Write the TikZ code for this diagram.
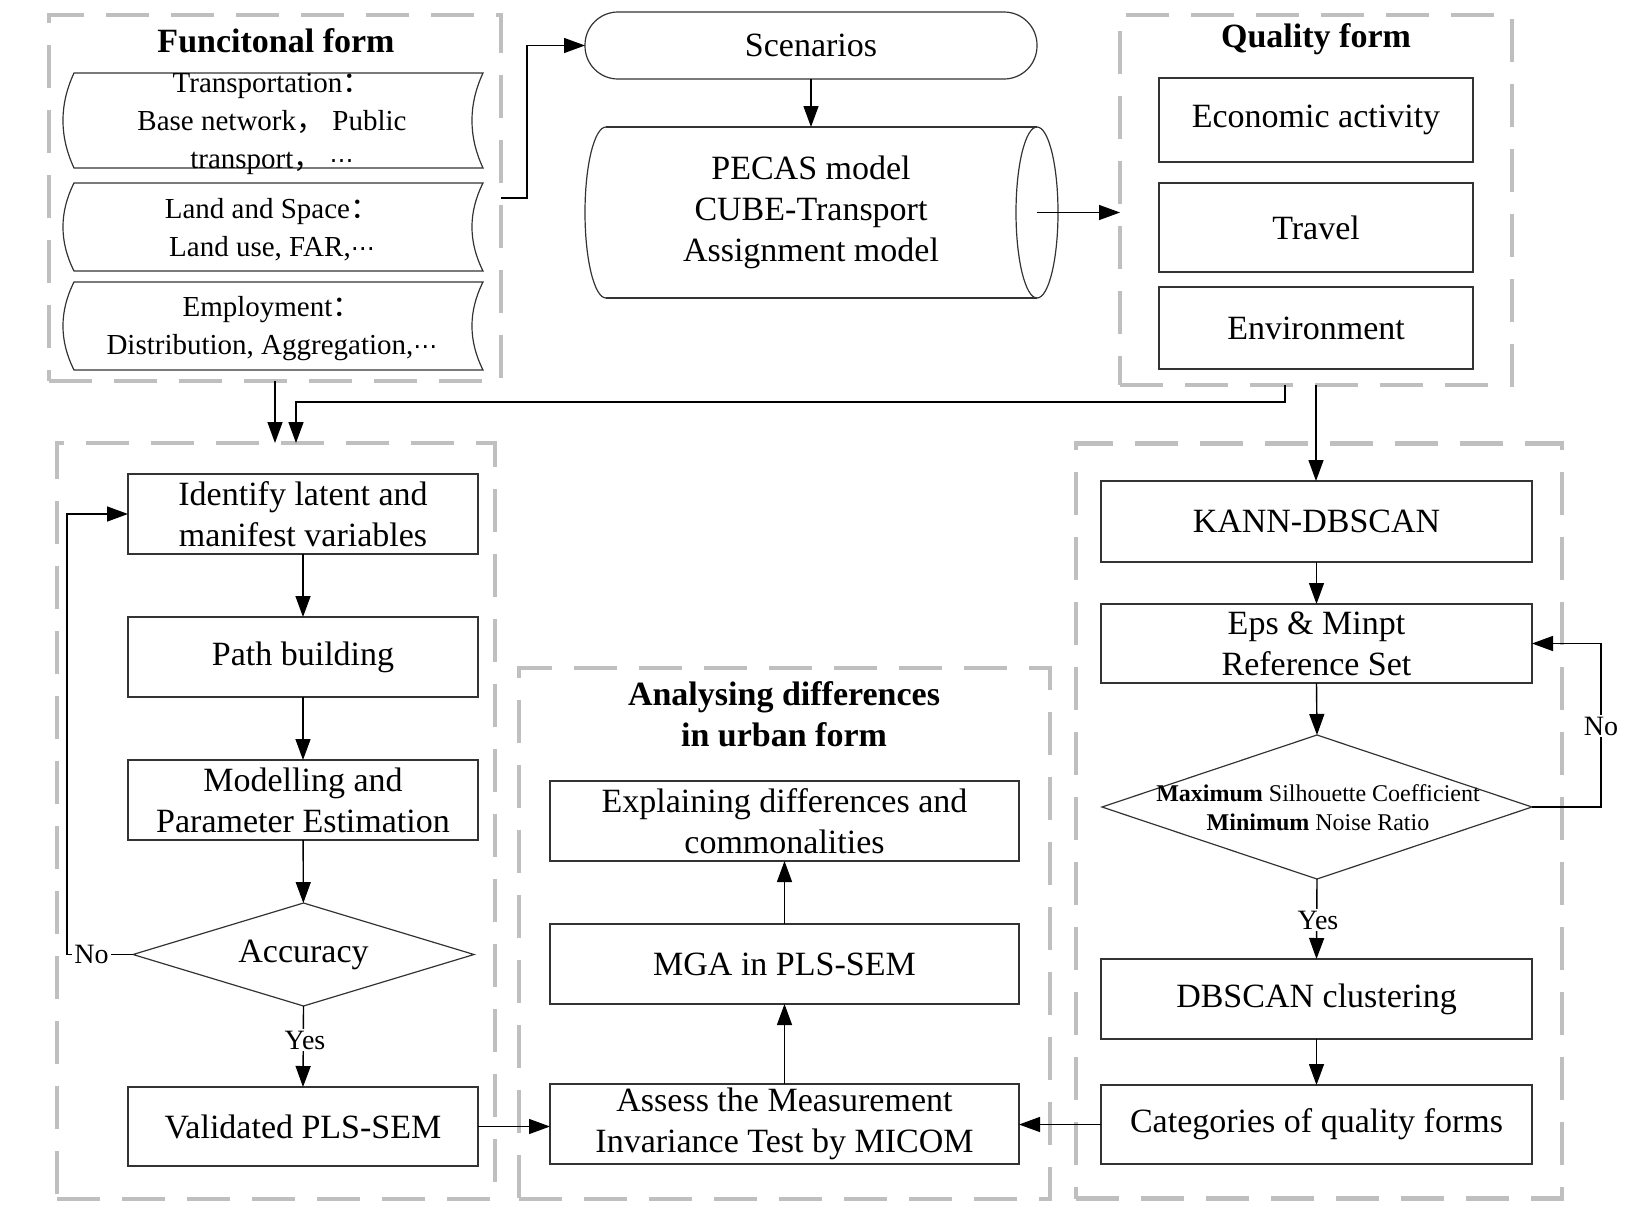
\documentclass[tikz,border=0pt]{standalone}
\usepackage{fontspec}
\setmainfont{Liberation Serif}
\newfontfamily\cjk{Noto Sans CJK SC}
\newfontfamily\symf{DejaVu Sans}
\usetikzlibrary{arrows.meta,shapes.geometric,calc}
\newcommand{\mainfs}{\fontsize{17}{20.5}\selectfont}
\newcommand{\funcfs}{\fontsize{14.5}{19}\selectfont}
\newcommand{\titlefs}{\fontsize{17}{20.5}\selectfont\bfseries}
\newcommand{\smallfs}{\fontsize{12}{14.5}\selectfont}
\newcommand{\lblfs}{\fontsize{14}{16}\selectfont}
\newcommand{\mdots}{{\symf\fontsize{12}{14}\selectfont ⋯}}
\begin{document}
\begin{tikzpicture}[x=0.5pt,y=-0.5pt,
  grp/.style={draw=black!25, line width=2.4pt, dash pattern=on 21.5pt off 11pt, inner sep=0pt, outer sep=0pt},
  box/.style={draw=black!80, line width=0.6pt, inner sep=0pt, outer sep=0pt, align=center, font=\mainfs},
  dia/.style={draw=black!80, line width=0.6pt, diamond, aspect=3, inner sep=0pt, outer sep=0pt, align=center, font=\mainfs},
  shapeline/.style={draw=black!80, line width=0.6pt},
  title/.style={font=\titlefs, align=center, inner sep=0pt},
  ftext/.style={font=\funcfs, align=center, inner sep=0pt},
  lbl/.style={font=\lblfs, fill=white, inner sep=1pt},
  arr/.style={-{Triangle[length=10.5pt,width=7.5pt]}, line width=0.7pt}]
\useasboundingbox (0,0) rectangle (1639,1221);

% groups
\node[grp, minimum width=226pt, minimum height=183pt] (func) at (275,198) {};
\node[grp, minimum width=196pt, minimum height=185pt] (qual) at (1316,200) {};
\node[grp, minimum width=219pt, minimum height=378pt] (lgrp) at (276,821) {};
\node[grp, minimum width=265.5pt, minimum height=265.5pt] (mgrp) at (784.5,933.5) {};
\node[grp, minimum width=243pt, minimum height=377.5pt] (rgrp) at (1319,821) {};

% titles
\node[title] (functitle) at (276,41) {Funcitonal form};
\node[title] (qualtitle) at (1316,39) {Quality form};
\node[title] (midtitle) at (784,714) {Analysing differences\\in urban form};

% stored-data shapes
\foreach \t/\b in {73/168,183/271,282/370} {
  \draw[shapeline] (74,\t) -- (483,\t)
    .. controls (468.3,{\t+(\b-\t)/3}) and (468.3,{\b-(\b-\t)/3}) .. (483,\b)
    -- (74,\b)
    .. controls (59.3,{\b-(\b-\t)/3}) and (59.3,{\t+(\b-\t)/3}) .. (74,\t) -- cycle;
}
\node[ftext] (trans) at (272,124) {Transportation{\cjk ：}\\Base network{\cjk ，} Public\\transport{\cjk ，} \mdots};
\node[ftext] (land) at (272,229.5) {Land and Space{\cjk ：}\\Land use, FAR,\mdots};
\node[ftext] (employ) at (272,329) {Employment{\cjk ：}\\Distribution, Aggregation,\mdots};

% scenarios and model
\node[box, rounded corners=16.5pt, minimum width=226pt, minimum height=33.5pt] (scen) at (811,45.5) {Scenarios};
\draw[shapeline] (606,127) -- (1037,127) (606,298) -- (1037,298);
\draw[shapeline] (1037,212.5) ellipse [x radius=10.5pt, y radius=42.75pt];
\draw[shapeline] (606,127) arc [start angle=90, end angle=270, x radius=10.5pt, y radius=42.75pt];
\node[align=center, font=\mainfs, inner sep=0pt] (model) at (811,212.5) {PECAS model\\CUBE-Transport\\Assignment model};
\coordinate (cyltop) at (811,127);
\coordinate (cylend) at (1037,212.5);

% quality boxes
\node[box, minimum width=157pt, minimum height=42pt] (econ) at (1316,120) {Economic activity};
\node[box, minimum width=157pt, minimum height=44.5pt] (travel) at (1316,227.5) {Travel};
\node[box, minimum width=157pt, minimum height=41pt] (env) at (1316,328) {Environment};

% left column
\node[box, minimum width=175pt, minimum height=40pt] (ident) at (303,514) {Identify latent and\\manifest variables};
\node[box, minimum width=175pt, minimum height=40pt] (path) at (303,657) {Path building};
\node[box, minimum width=175pt, minimum height=40pt] (modpar) at (303,800) {Modelling and\\Parameter Estimation};
\node[dia, minimum width=170.5pt, minimum height=51.5pt] (acc) at (303.5,954.5) {Accuracy};
\node[box, minimum width=175pt, minimum height=39.5pt] (valid) at (303,1126.5) {Validated PLS-SEM};

% middle column
\node[box, minimum width=234.5pt, minimum height=40pt] (expl) at (784.5,821) {Explaining differences and\\commonalities};
\node[box, minimum width=234.5pt, minimum height=40pt] (mga) at (784.5,964) {MGA in PLS-SEM};
\node[box, minimum width=234.5pt, minimum height=40pt] (assess) at (784.5,1124) {Assess the Measurement\\Invariance Test by MICOM};

% right column
\node[box, minimum width=215.5pt, minimum height=40.5pt] (kann) at (1316.5,521.5) {KANN-DBSCAN};
\node[box, minimum width=215.5pt, minimum height=39.5pt] (eps) at (1316.5,643.5) {Eps \& Minpt\\Reference Set};
\node[dia, minimum width=215pt, minimum height=72pt] (sil) at (1317,807) {};
\node[font=\smallfs, align=center, inner sep=0pt] (siltext) at (1318,807.5) {\textbf{Maximum} Silhouette Coefficient\\\textbf{Minimum} Noise Ratio};
\node[box, minimum width=215.5pt, minimum height=40pt] (dbscan) at (1316.5,999) {DBSCAN clustering};
\node[box, minimum width=215.5pt, minimum height=39.5pt] (cat) at (1316.5,1124.5) {Categories of quality forms};

\coordinate (noL) at (67,0);
\coordinate (noR) at (1601,0);

% connectors
\draw[arr] (func.east) -- (527,198) |- (scen.west);
\draw[arr] (scen.south) -- (cyltop);
\draw[arr] (cylend) -- (cylend -| qual.west);
\draw[arr] (func.south) -- (func.south |- lgrp.north);
\draw[arr] ([xshift=-15.5pt]qual.south) -- ++(0,17) -| ([xshift=10pt]lgrp.north);
\draw[arr] (qual.south) -- (qual.south |- kann.north);

\draw[arr] (ident) -- (path);
\draw[arr] (path) -- (modpar);
\draw[arr] (modpar) -- (acc);
\draw[arr] (acc.south) -- (valid.north);
\node[lbl] (yesL) at (305,1040) {Yes};
\draw[arr] (acc.west) -- (acc.west -| noL) |- (ident.west);
\node[lbl] (noLlbl) at (91.5,954.5) {No};

\draw[arr] (assess) -- (mga);
\draw[arr] (mga) -- (expl);
\draw[arr] (valid.east) -- (valid.east -| assess.west);
\draw[arr] (cat.west) -- (cat.west -| assess.east);

\draw[arr] (kann) -- (eps);
\draw[arr] (eps.south) -- (sil.north);
\draw[arr] (sil.south) -- (dbscan.north);
\node[lbl] (yesR) at (1318,920) {Yes};
\draw[arr] (dbscan) -- (cat);
\draw[arr] (sil.east) -- (sil.east -| noR) |- (eps.east);
\node[lbl] (noRlbl) at (1601,726) {No};
\end{tikzpicture}
\end{document}
